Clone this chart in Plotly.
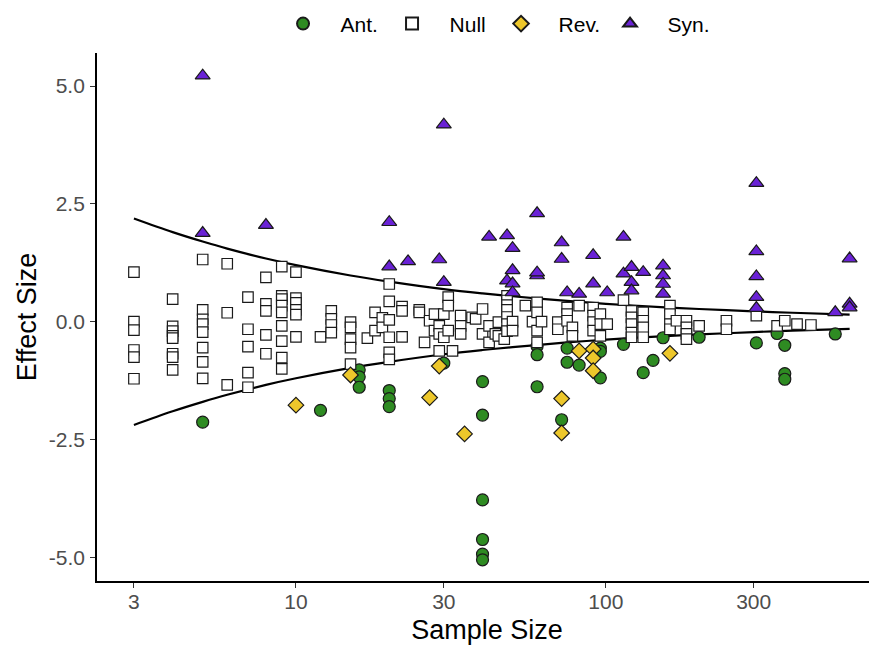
import plotly.graph_objects as go
import numpy as np

# ---- data (sample size, effect size) ----
ant_n = [5, 12, 16, 16, 16, 20, 20, 20, 30, 40, 40, 40, 40, 40, 40, 60, 60, 60,
         75, 75, 82, 72, 96, 96, 96, 114, 132, 142, 153, 200, 306, 357, 378, 378, 378, 550]
ant_y = [-2.13, -1.88, -1.02, -1.17, -1.39, -1.46, -1.63, -1.80, -0.88, -1.27, -1.98, -3.78,
         -4.62, -4.93, -5.05, -0.52, -0.70, -1.38, -0.56, -0.86, -0.92, -2.08, -0.56, -0.63,
         -1.19, -0.48, -1.08, -0.82, -0.34, -0.33, -0.45, -0.25, -0.50, -1.10, -1.22, -0.26]

rev_n = [10, 15, 27, 29, 35, 72, 72, 82, 91, 91, 91, 161]
rev_y = [-1.77, -1.13, -1.61, -0.94, -2.38, -1.63, -2.36, -0.62, -0.58, -0.77, -1.04, -0.67]

syn_n = [5, 5, 8, 20, 20, 23, 29, 30, 30, 42, 48, 48, 50, 50, 50, 50, 60, 60, 60,
         72, 72, 75, 82, 91, 91, 101, 114, 114, 121, 121, 121, 132, 153, 153, 153, 153,
         306, 306, 306, 306, 306, 550, 612, 612, 612]
syn_y = [5.22, 1.88, 2.05, 2.11, 1.17, 1.28, 1.32, 4.18, 0.84, 1.80, 1.83, 0.87, 1.56, 1.09,
         0.81, 0.62, 2.30, 0.98, 1.04, 1.68, 1.33, 0.62, 0.59, 1.41, 0.81, 0.62, 1.80, 1.02,
         1.16, 0.84, 0.66, 1.05, 1.19, 0.98, 0.80, 0.59, 2.94, 1.49, 0.96, 0.52, 0.29, 0.20,
         1.34, 0.38, 0.30]

null_n = ([3] * 6 + [4] * 8 + [5] * 8 + [6] * 3 + [7] * 5 + [8] * 5 + [9] * 9 + [10] * 6 +
          [12] + [13] * 4 + [15] * 5 + [17] + [18] * 2 + [19] * 2 + [20] * 6 + [22] * 3 +
          [25] * 2 + [26] + [27] + [28] * 2 + [29] * 3 + [30] * 2 + [31] * 3 + [32] + [34] * 3 +
          [37] + [38] + [40] * 2 + [42] * 2 + [44] + [45] * 2 + [47] + [48] * 7 + [50] * 2 +
          [55] + [58] + [60] * 4 + [62] + [70] * 2 + [75] * 3 + [78] * 2 + [82] + [91] * 4 +
          [96] * 3 + [101] + [114] + [121] * 5 + [132] * 4 + [161] * 4 + [169] + [182] * 4 +
          [200] + [245] * 2 + [306] + [357] + [378] + [414] + [459])
null_y = [1.05, 0.0, -0.18, -0.60, -0.75, -1.21,
          0.48, -0.10, -0.20, -0.30, -0.35, -0.68, -0.75, -1.02,
          1.32, 0.25, 0.05, -0.05, -0.22, -0.55, -0.85, -1.20,
          1.23, 0.19, -1.34,
          0.52, -0.16, -0.53, -1.08, -1.39,
          0.94, 0.38, 0.23, -0.28, -0.68,
          1.17, 0.55, 0.48, 0.34, 0.20, -0.09, -0.41, -0.76, -1.00,
          1.05, 0.50, 0.40, 0.25, 0.15, -0.32,
          -0.32,
          0.23, 0.06, -0.07, -0.23,
          -0.01, -0.12, -0.37, -0.55, -0.90,
          -0.35,
          0.20, -0.19,
          0.08, -0.12,
          0.80, 0.43, 0.04, -0.33, -0.65, -0.80,
          0.32, 0.23, -0.32,
          0.25, 0.20,
          -0.44,
          0.02,
          0.16, -0.19,
          -0.09, -0.26, -0.62,
          0.16, -0.33,
          0.52, 0.34, -0.19,
          -0.62,
          0.13, -0.09, -0.26,
          0.09,
          0.06,
          0.27, -0.26,
          -0.44, -0.09,
          -0.26,
          -0.01, -0.30,
          -0.37,
          0.55, 0.45, 0.35, 0.25, 0.10, -0.05, -0.20,
          0.00, -0.19,
          0.34,
          0.00,
          0.41, 0.20, -0.19, -0.44,
          0.00,
          -0.01, -0.16,
          0.30, 0.16, 0.02,
          -0.12, -0.30,
          0.34,
          0.30, 0.13, -0.01, -0.19,
          0.16, -0.05, -0.30,
          -0.05,
          0.46,
          0.23, 0.09, -0.05, -0.23, -0.33,
          0.20, 0.02, -0.12, -0.33,
          0.34, 0.16, -0.05, -0.16,
          0.02,
          0.02, -0.12, -0.26, -0.37,
          -0.09,
          0.02, -0.16,
          0.13,
          -0.09,
          0.02,
          -0.05,
          -0.07]

# funnel bounds
funnel_n = [3, 4, 5, 6, 8, 10, 15, 20, 30, 40, 50, 75, 100, 150, 200, 300, 400, 612]
funnel_upper = [2.19, 1.90, 1.70, 1.55, 1.34, 1.20, 0.98, 0.85, 0.69, 0.60, 0.54, 0.44,
                0.38, 0.31, 0.27, 0.22, 0.19, 0.15]
funnel_lower = [-v for v in funnel_upper]

x_ticks = [3, 10, 30, 100, 300]
x_tick_labels = ["3", "10", "30", "100", "300"]
y_ticks = [-5.0, -2.5, 0.0, 2.5, 5.0]
y_tick_labels = ["-5.0", "-2.5", "0.0", "2.5", "5.0"]

GREEN = "#2E8B22"
YELLOW = "#EDC72B"
PURPLE = "#6A22D6"
EDGE = "#1a1a1a"
PAD = "\u00a0\u00a0\u00a0"

fig = go.Figure()

for n_vals, y_vals in [(funnel_n, funnel_upper), (funnel_n, funnel_lower)]:
    fig.add_trace(go.Scatter(x=n_vals, y=y_vals, mode="lines", line=dict(color="black", width=2.2, shape="spline"),
                             showlegend=False, hoverinfo="skip"))

groups = [
    ("Ant.", ant_n, ant_y, "circle", GREEN, 12),
    ("Null", null_n, null_y, "square", "white", 10.5),
    ("Rev.", rev_n, rev_y, "diamond", YELLOW, 12),
    ("Syn.", syn_n, syn_y, "triangle-up", PURPLE, 13),
]
for name, xs, ys, sym, col, size in groups:
    fig.add_trace(go.Scatter(
        x=xs, y=ys, mode="markers", name=PAD + name,
        marker=dict(symbol=sym, color=col, size=size, line=dict(color=EDGE, width=1.2)),
    ))

# the page body adds an 8px offset, so the figure is sized to fill the window from there
fig.update_layout(
    width=869, height=640,
    margin=dict(l=89, r=0, t=45, b=67, autoexpand=False),
    paper_bgcolor="white", plot_bgcolor="white",
    font=dict(family="Liberation Sans, Arial, sans-serif", color="black"),
    legend=dict(orientation="h", x=0.518, xanchor="center", y=1.055, yanchor="middle",
                font=dict(size=21, color="black"), itemsizing="constant",
                entrywidth=64, entrywidthmode="pixels", tracegroupgap=0),
    xaxis=dict(type="log", range=[np.log10(2.28), np.log10(750)], automargin=False,
               tickvals=x_ticks, ticktext=x_tick_labels,
               showline=True, linecolor="black", linewidth=1.8,
               ticks="outside", ticklen=5, tickcolor="#333333", tickwidth=1.2,
               tickfont=dict(size=21, color="#4D4D4D"), ticklabelstandoff=-4,
               showgrid=False, zeroline=False,
               title=dict(text="Sample Size", font=dict(size=27, color="black"), standoff=8)),
    yaxis=dict(range=[-5.5, 5.7], automargin=False,
               tickvals=y_ticks, ticktext=y_tick_labels,
               showline=True, linecolor="black", linewidth=1.8,
               ticks="outside", ticklen=5, tickcolor="#333333", tickwidth=1.2,
               tickfont=dict(size=21, color="#4D4D4D"), ticklabelstandoff=1,
               showgrid=False, zeroline=False,
               title=dict(text="Effect Size", font=dict(size=27, color="black"), standoff=4)),
)

fig.write_html("out.html")
